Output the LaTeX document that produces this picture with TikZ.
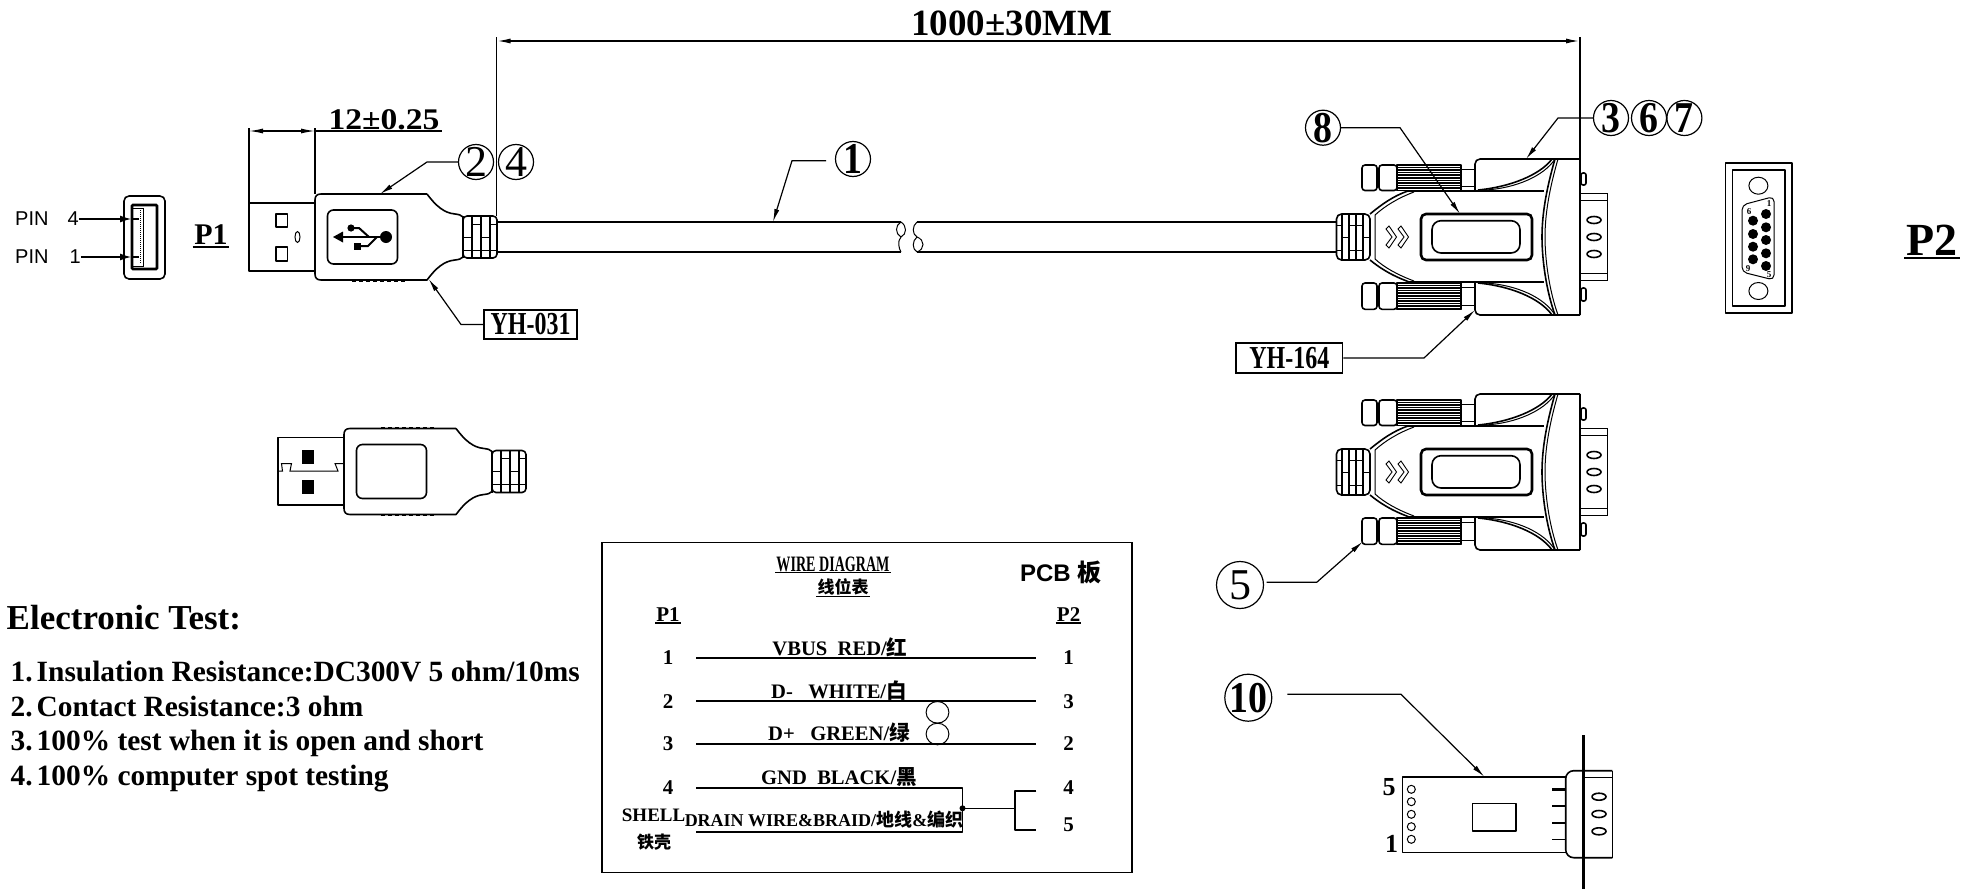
\documentclass[tikz,border=0pt]{standalone}
\usepackage{fontspec}
\usetikzlibrary{arrows.meta}
\setmainfont{Liberation Serif}
\setsansfont{Liberation Sans}
\newfontfamily\cjk{Noto Sans CJK SC}
\newcommand\fs[1]{\fontsize{#1}{#1}\selectfont}
\newcommand\cad[2]{\scalebox{#1}[1]{#2}}
\newcommand\bnum[1]{\cad{.86}{\bfseries #1}}
\tikzset{
  outline/.style={line width=1.6pt,line join=round},
  fine/.style={line width=1pt},
  heavy/.style={line width=2.6pt},
  leader/.style={line width=1.2pt,-{Latex[length=13pt,width=5pt]}},
  dimline/.style={line width=1.2pt},
  circ/.style={circle,draw,line width=1.2pt,minimum size=35pt,inner sep=-5pt,font=\fs{44}},
  bigcirc/.style={circ,minimum size=47pt},
  wiretext/.style={inner sep=1pt,font=\fs{20.6}\bfseries},
  pintext/.style={inner sep=0pt,font=\fs{21}\bfseries},
  testtext/.style={anchor=base west,inner sep=0pt,font=\fs{29.4}\bfseries},
  tagbox/.style={draw,line width=1.4pt,inner sep=0pt,font=\fs{32}\bfseries},
}
% USB overmould (absolute coordinates of the upper plug)
\newcommand\usbbody{%
  \draw[outline] (427,194) -- (321,194) .. controls (317,194) and (315,196) .. (315,200)
     -- (315,274) .. controls (315,278) and (317,280) .. (321,280) -- (427,280)
     .. controls (436,268) and (444,261) .. (455,260) .. controls (459,259.5) and (461,259) .. (463,257);
  \draw[outline] (427,194) .. controls (436,206) and (444,213) .. (455,214) .. controls (459,214.5) and (461,215) .. (463,217);
  \draw[line width=2pt,dash pattern=on 3.5pt off 3.5pt] (352,193.5) -- (405,193.5);
  \draw[line width=2pt,dash pattern=on 3.5pt off 3.5pt] (352,280.5) -- (405,280.5);
  \draw[outline,rounded corners=6pt] (327.5,210) rectangle (397.5,264);
  \draw[outline,rounded corners=4pt] (463,216) -- (497,216) -- (497,258) -- (463,258) -- cycle;
  \foreach \vx in {463,472,481,490} \draw[line width=1.3pt] (\vx,216) -- (\vx,258);
  \foreach \hx/\hy in {463/237,481/237,463/250,472/250,481/250,490/250,472/224,490/224}
    \draw[line width=.8pt] (\hx,\hy) -- ++(\ifdim\hx pt<490pt 9\else 7\fi,0);
}
% DB9 hood, common to both views
\newcommand\dbbody{%
  \foreach \ya/\yb/\sa/\sb in {165/190.5/169/186.7,283/309.3/287/305}{
    \draw[outline,rounded corners=3pt] (1362,\ya) rectangle (1377,\yb);
    \draw[outline,rounded corners=3pt] (1379,\ya) rectangle (1397,\yb);
    \foreach \k in {0,...,10} \draw[line width=1.6pt] (1397,\ya+\k*2.55) -- (1461,\ya+\k*2.55);
    \draw[outline] (1397,\ya) rectangle (1461,\yb);
    \draw[fine] (1461,\sa) rectangle (1475,\sb);
  }
  \draw[outline,rounded corners=5pt] (1475,191) -- (1475,159) -- (1580,159);
  \draw[outline,rounded corners=5pt] (1475,281) -- (1475,315) -- (1580,315);
  \draw[outline] (1580,159) -- (1580,315);
  \draw[outline] (1478,190) .. controls (1510,187) and (1540,175) .. (1552,159);
  \draw[fine] (1486,190) .. controls (1516,188) and (1544,176) .. (1555,159);
  \draw[outline] (1478,283) .. controls (1510,286) and (1540,298) .. (1552,315);
  \draw[fine] (1486,283) .. controls (1516,285) and (1544,297) .. (1555,315);
  \draw[outline] (1555,159) .. controls (1546,190) and (1542,215) .. (1542,237) .. controls (1542,259) and (1546,290) .. (1555,315);
  \draw[fine] (1558,159) .. controls (1549,190) and (1545,215) .. (1545,237) .. controls (1545,259) and (1549,290) .. (1558,315);
  \draw[line width=2pt] (1408,191) -- (1544,191);
  \draw[line width=2pt] (1408,281.5) -- (1544,281.5);
  \draw[outline] (1408,191) .. controls (1393,196) and (1381,205) .. (1370,214);
  \draw[outline] (1408,281.5) .. controls (1393,276) and (1381,269) .. (1370,260);
  \draw[fine] (1414,192) .. controls (1398,198) and (1385,206) .. (1375,215) -- (1375,259)
      .. controls (1385,268) and (1398,275) .. (1414,281);
  \draw[outline,rounded corners=5pt] (1370,214) -- (1336.5,214) -- (1336.5,260) -- (1370,260) -- cycle;
  \foreach \vx in {1342,1349,1356,1363} \draw[line width=1.2pt] (\vx,214) -- (\vx,260);
  \foreach \hx/\hy in {1336.5/225,1349/225,1356/225,1342/237,1363/237,1336.5/250,1349/250,1356/250}
    \draw[line width=.8pt] (\hx,\hy) -- ++(6.8,0);
  \foreach \cx in {1386,1398}
    \draw[line width=.9pt,line join=miter] (\cx,229) -- (\cx+3,226) -- (\cx+10.5,237) -- (\cx+3,248) -- (\cx,245) -- (\cx+6,237) -- cycle;
  \draw[line width=2.6pt,rounded corners=5pt] (1421,214) rectangle (1532,260);
  \draw[outline,rounded corners=9pt] (1432,220.7) rectangle (1520,253);
  \draw[outline,rounded corners=2pt] (1581,173) rectangle (1586,185);
  \draw[outline,rounded corners=2pt] (1581,288) rectangle (1586,301);
  \draw[fine] (1580,193) rectangle (1607.7,280.7);
  \draw[fine] (1580,200) -- (1607.7,200);
  \draw[fine] (1580,273) -- (1607.7,273);
  \foreach \oy in {220,237,254} \draw[outline] (1594,\oy) circle[x radius=7,y radius=3.5];
}
\begin{document}
\begin{tikzpicture}[x=1pt,y=-1pt]
\useasboundingbox (0,0) rectangle (1971,889);

% ---- overall length
\coordinate (extLt) at (496.5,37);
\coordinate (extLb) at (496.5,216);
\coordinate (extRt) at (1580,37);
\coordinate (extRb) at (1580,159);
\coordinate (dimL) at (496.5,41);
\coordinate (dimR) at (1580,41);
\draw[dimline] (extLt) -- (extLb);
\draw[dimline] (extRt) -- (extRb);
\draw[line width=1.6pt,{Latex[length=14pt,width=5pt]}-{Latex[length=14pt,width=5pt]}] (dimL) -- (dimR);
\node[anchor=base,inner sep=0pt,font=\fs{37}\bfseries] (overall) at (1012,35) {1000±30MM};

% ---- plug dimension
\coordinate (dsLt) at (249,128);
\coordinate (dsLb) at (249,203);
\coordinate (dsRt) at (315,128);
\coordinate (dsRb) at (315,194);
\coordinate (dsA) at (249,131);
\coordinate (dsB) at (315,131);
\coordinate (dsEnd) at (442,131);
\draw[dimline] (dsLt) -- (dsLb);
\draw[dimline] (dsRt) -- (dsRb);
\draw[dimline,{Latex[length=14pt,width=5pt]}-{Latex[length=14pt,width=5pt]}] (dsA) -- (dsB);
\draw[dimline] (dsB) -- (dsEnd);
\node[anchor=base,inner sep=0pt,font=\fs{30}\bfseries] (shortdim) at (384,129) {\cad{1.12}{12±0.25}};

% ---- socket end view
\draw[outline,rounded corners=5pt] (124,196) rectangle (165,279);
\draw[heavy,rounded corners=1pt] (132,205) rectangle (157,269);
\draw[fine] (132,208) -- (143,208) -- (143,266) -- (132,266);
\draw[fine,densely dotted] (140,210) -- (140,264);
\node[anchor=west,inner sep=0pt,font=\sffamily\fs{20}] (pin4) at (15,219) {PIN\hspace{19pt}4};
\node[anchor=west,inner sep=0pt,font=\sffamily\fs{20}] (pin1) at (15,257) {PIN\hspace{21pt}1};
\coordinate (pin4t) at (131,219);
\coordinate (pin1t) at (131,257);
\draw[leader,-{Latex[length=11pt,width=7pt]}] (pin4) -- (pin4t);
\draw[leader,-{Latex[length=11pt,width=7pt]}] (pin1) -- (pin1t);
\draw[outline] (pin4t) -- ++(8,0);
\draw[outline] (pin1t) -- ++(8,0);
\node[inner sep=1.5pt,font=\fs{30}\bfseries] (p1) at (211,235) {P1};
\draw[line width=1.8pt] (p1.south west) -- (p1.south east);

% ---- upper USB plug
\draw[outline] (249,203) rectangle (315,271);
\draw[outline] (276,214) rectangle (287.5,227);
\draw[outline] (276,247) rectangle (287.5,261);
\draw[fine] (297.5,237) circle[x radius=2.5,y radius=5.5];
\usbbody
% USB trident
\draw[line width=2.4pt] (340,237) -- (384,237);
\fill (333,237) -- (343,231.5) -- (343,242.5) -- cycle;
\fill (386,237) circle[radius=6];
\fill (351,228) circle[radius=3.6];
\fill (354,242.5) rectangle (361,249.5);
\draw[line width=2pt] (351,228) -- (359,228) -- (369,237);
\draw[line width=2pt] (357,246) -- (368,246) -- (377,237);

% ---- cable
\coordinate (cabA1) at (497,222);
\coordinate (cabA2) at (901,222);
\coordinate (cabB1) at (497,252);
\coordinate (cabB2) at (901,252);
\coordinate (cabC1) at (917,222);
\coordinate (cabC2) at (1336.5,222);
\coordinate (cabD1) at (917,252);
\coordinate (cabD2) at (1336.5,252);
\draw[outline] (cabA1) -- (cabA2);
\draw[outline] (cabB1) -- (cabB2);
\draw[outline] (cabC1) -- (cabC2);
\draw[outline] (cabD1) -- (cabD2);
\draw[fine] (cabA2) .. controls (907,226) and (907,234) .. (901,237) .. controls (897,241) and (899,249) .. (cabB2);
\draw[fine] (cabA2) .. controls (895,225) and (895,234) .. (901,237);
\draw[fine] (cabC1) .. controls (912,226) and (912,234) .. (917,237) .. controls (912,241) and (912,249) .. (cabD1);
\draw[fine] (917,237) .. controls (925,240) and (925,249) .. (cabD1);

% ---- DB9 hoods
\dbbody
\begin{scope}[shift={(0,235)}]\dbbody\end{scope}
\begin{scope}[shift={(29,234.5)}]
  \usbbody
  \draw[outline] (249,203) rectangle (315,270.5);
  \fill (273.3,215.5) rectangle (285,229.5);
  \fill (273.3,245) rectangle (285,259);
  \draw[fine] (249,236.5) -- (253.5,236.5) -- (252.5,229) -- (262.5,229) -- (261,236.5) -- (309,236.5) -- (306,229) -- (315,229);
\end{scope}

% ---- DB9 end view
\draw[outline] (1725.5,162.7) rectangle (1792,313);
\draw[outline] (1732.6,170) rectangle (1785,306);
\draw[fine] (1758.4,185.7) circle[x radius=9.5,y radius=8.5];
\draw[fine] (1758.4,291) circle[x radius=9.5,y radius=8.5];
\draw[fine,rounded corners=5pt] (1742,205) -- (1774,196.5) -- (1774,280) -- (1742,272) -- cycle;
\foreach \py in {214,227.3,240,253.3,266} \fill (1766,\py) circle[radius=5];
\foreach \py in {220.7,234,246.7,259.3} \fill (1753,\py) circle[radius=5];
\node[inner sep=0pt,font=\fs{9}\bfseries] (ev1) at (1769,204) {1};
\node[inner sep=0pt,font=\fs{9}\bfseries] (ev6) at (1749,212) {6};
\node[inner sep=0pt,font=\fs{9}\bfseries] (ev9) at (1748,269) {9};
\node[inner sep=0pt,font=\fs{9}\bfseries] (ev5) at (1769,275) {5};
\node[inner sep=2pt,font=\fs{46}\bfseries] (p2) at (1931.8,240.5) {P2};
\draw[line width=2pt] (p2.south west) -- (p2.south east);

% ---- balloons
\node[circ] (b2) at (476,162) {2};
\node[circ] (b4) at (516,162) {4};
\coordinate (b2k) at (427,162); \coordinate (b2t) at (380,194);
\draw[leader] (b2) -- (b2k) -- (b2t);
\node[circ] (b1) at (853,159) {\bnum{1}};
\coordinate (b1k) at (792,160.7); \coordinate (b1s) at (826,160.7); \coordinate (b1t) at (773,222);
\draw[leader] (b1s) -- (b1k) -- (b1t);
\node[circ] (b8) at (1323,127.7) {\bnum{8}};
\coordinate (b8k) at (1400,127.7); \coordinate (b8t) at (1460,214);
\draw[leader] (b8) -- (b8k) -- (b8t);
\node[circ] (b3) at (1611,118) {\bnum{3}};
\node[circ] (b6) at (1649,118) {\bnum{6}};
\node[circ] (b7) at (1684.4,118) {\bnum{7}};
\coordinate (b3k) at (1558,118); \coordinate (b3t) at (1526,159);
\draw[leader] (b3) -- (b3k) -- (b3t);
\node[bigcirc] (b5) at (1240,585) {5};
\coordinate (b5s) at (1266.7,582.3); \coordinate (b5k) at (1316.7,582.3); \coordinate (b5t) at (1362.7,541.7);
\draw[leader] (b5s) -- (b5k) -- (b5t);
\node[bigcirc] (b10) at (1248.3,697.7) {\bnum{10}};
\coordinate (b10s) at (1287.3,694.3); \coordinate (b10k) at (1401,694.3); \coordinate (b10t) at (1484.3,776.7);
\draw[leader] (b10s) -- (b10k) -- (b10t);

% ---- tags
\node[tagbox,minimum width=93pt,minimum height=29pt] (ya) at (530.5,324.5) {\cad{.75}{YH-031}};
\coordinate (yak) at (461,324.5); \coordinate (yat) at (428.6,279);
\draw[leader] (ya) -- (yak) -- (yat);
\node[tagbox,minimum width=106.5pt,minimum height=29.7pt] (yb) at (1289.3,358) {\cad{.75}{YH-164}};
\coordinate (ybk) at (1424,358); \coordinate (ybt) at (1475,310);
\draw[leader] (yb) -- (ybk) -- (ybt);

% ---- electronic test
\node[anchor=base west,inner sep=0pt,font=\fs{35}\bfseries] (test0) at (6.5,629.3) {Electronic Test:};
\node[testtext] (test1) at (10.5,681.7) {1.\hspace{4pt}Insulation Resistance:DC300V 5 ohm/10ms};
\node[testtext] (test2) at (10.5,716) {2.\hspace{4pt}Contact Resistance:3 ohm};
\node[testtext] (test3) at (10.5,750.7) {3.\hspace{4pt}100\% test when it is open and short};
\node[testtext] (test4) at (10.5,785.7) {4.\hspace{4pt}100\% computer spot testing};

% ---- wire diagram
\draw[line width=1.6pt] (601.8,542.3) rectangle (1132,872.3);
\node[inner sep=1pt,font=\fs{22}\bfseries] (wd) at (833,564) {\cad{.64}{WIRE DIAGRAM}};
\draw[line width=1.4pt] (wd.south west) -- (wd.south east);
\node[inner sep=1pt,font=\cjk\fs{17}\bfseries] (wdc) at (843,587) {线位表};
\draw[line width=1.4pt] (wdc.south west) -- (wdc.south east);
\node[inner sep=0pt,font=\sffamily\fs{24}\bfseries] (pcb) at (1060.7,572) {PCB {\cjk 板}};
\node[inner sep=1pt,font=\fs{21}\bfseries] (tp1) at (668,615) {P1};
\draw[line width=1.4pt] (tp1.south west) -- (tp1.south east);
\node[inner sep=1pt,font=\fs{21}\bfseries] (tp2) at (1068.6,615) {P2};
\draw[line width=1.4pt] (tp2.south west) -- (tp2.south east);
\foreach \nm/\ty/\ly/\ry in {a/658/1/1,b/701.7/2/3,c/744/3/2,d/788/4/4}{
  \node[pintext] (l\nm) at (668,\ty) {\ly};
  \node[pintext] (r\nm) at (1068.6,\ty) {\ry};
}
\node[pintext] (re) at (1068.6,825) {5};
\coordinate (w1a) at (696,657.7); \coordinate (w1b) at (1036.4,657.7);
\coordinate (w2a) at (696,701); \coordinate (w2b) at (1036.4,701);
\coordinate (w3a) at (696,744); \coordinate (w3b) at (1036.4,744);
\coordinate (w4a) at (696,787.7); \coordinate (w4c) at (962.5,787.7);
\coordinate (w5a) at (696,831.7); \coordinate (w5c) at (962.5,831.7);
\coordinate (jn) at (962.5,808.3);
\coordinate (jm) at (1015,808.3);
\coordinate (w4r) at (1036.4,791); \coordinate (w4m) at (1015,791);
\coordinate (w5r) at (1036.4,830); \coordinate (w5m) at (1015,830);
\draw[outline] (w1a) -- (w1b);
\draw[outline] (w2a) -- (w2b);
\draw[outline] (w3a) -- (w3b);
\draw[outline] (w4a) -- (w4c) -- (w5c) -- (w5a);
\fill (jn) circle[radius=3];
\draw[outline] (jn) -- (jm);
\draw[outline] (w4r) -- (w4m) -- (w5m) -- (w5r);
\draw[fine] (937.5,712.3) circle[x radius=11.4,y radius=10.8];
\draw[fine] (937.5,734) circle[x radius=11.4,y radius=10.8];
\node[wiretext] (tvbus) at (840,647) {VBUS\ \ RED/{\cjk 红}};
\node[wiretext] (tdm) at (839,690.7) {D-\ \ \ WHITE/{\cjk 白}};
\node[wiretext] (tdp) at (839,733) {D+\ \ \ GREEN/{\cjk 绿}};
\node[wiretext] (tgnd) at (839,777) {GND\ \ BLACK/{\cjk 黑}};
\node[wiretext,font=\fs{18}\bfseries] (tdrain) at (824,820) {DRAIN WIRE\&BRAID/{\cjk 地线}\&{\cjk 编织}};
\node[inner sep=0pt,font=\fs{19}\bfseries] (tshell) at (653.6,815.7) {SHELL};
\node[inner sep=0pt,font=\cjk\fs{17}\bfseries] (tshellc) at (654,842) {铁壳};

% ---- PCB detail
\draw[outline] (1565.7,776.7) -- (1402.3,776.7) -- (1402.3,852.3) -- (1565.7,852.3);
\foreach \hy in {789.3,801.7,814.3,826.7,839.3} \draw[fine] (1411.3,\hy) circle[radius=4];
\draw[outline] (1472.3,803.3) rectangle (1515.7,830.7);
\foreach \py/\pw in {789.3/2.4,805.7/2.4,822.7/2.4,839.3/1.2} \draw[line width=\pw pt] (1552.3,\py) -- (1565.7,\py);
\draw[outline,rounded corners=8pt] (1612.3,770.7) -- (1565.7,770.7) -- (1565.7,857.7) -- (1612.3,857.7);
\draw[outline] (1612.3,770.7) -- (1612.3,857.7);
\draw[outline] (1583.3,777.3) -- (1612.3,777.3);
\draw[line width=3.4pt] (1583.3,735) -- (1583.3,889);
\foreach \oy in {796.7,814,831.3} \draw[outline] (1599,\oy) circle[x radius=7,y radius=3.5];
\node[inner sep=0pt,font=\fs{26}\bfseries] (pcb5) at (1389,787) {5};
\node[inner sep=0pt,font=\fs{26}\bfseries] (pcb1) at (1391.7,844) {1};
\end{tikzpicture}
\end{document}
